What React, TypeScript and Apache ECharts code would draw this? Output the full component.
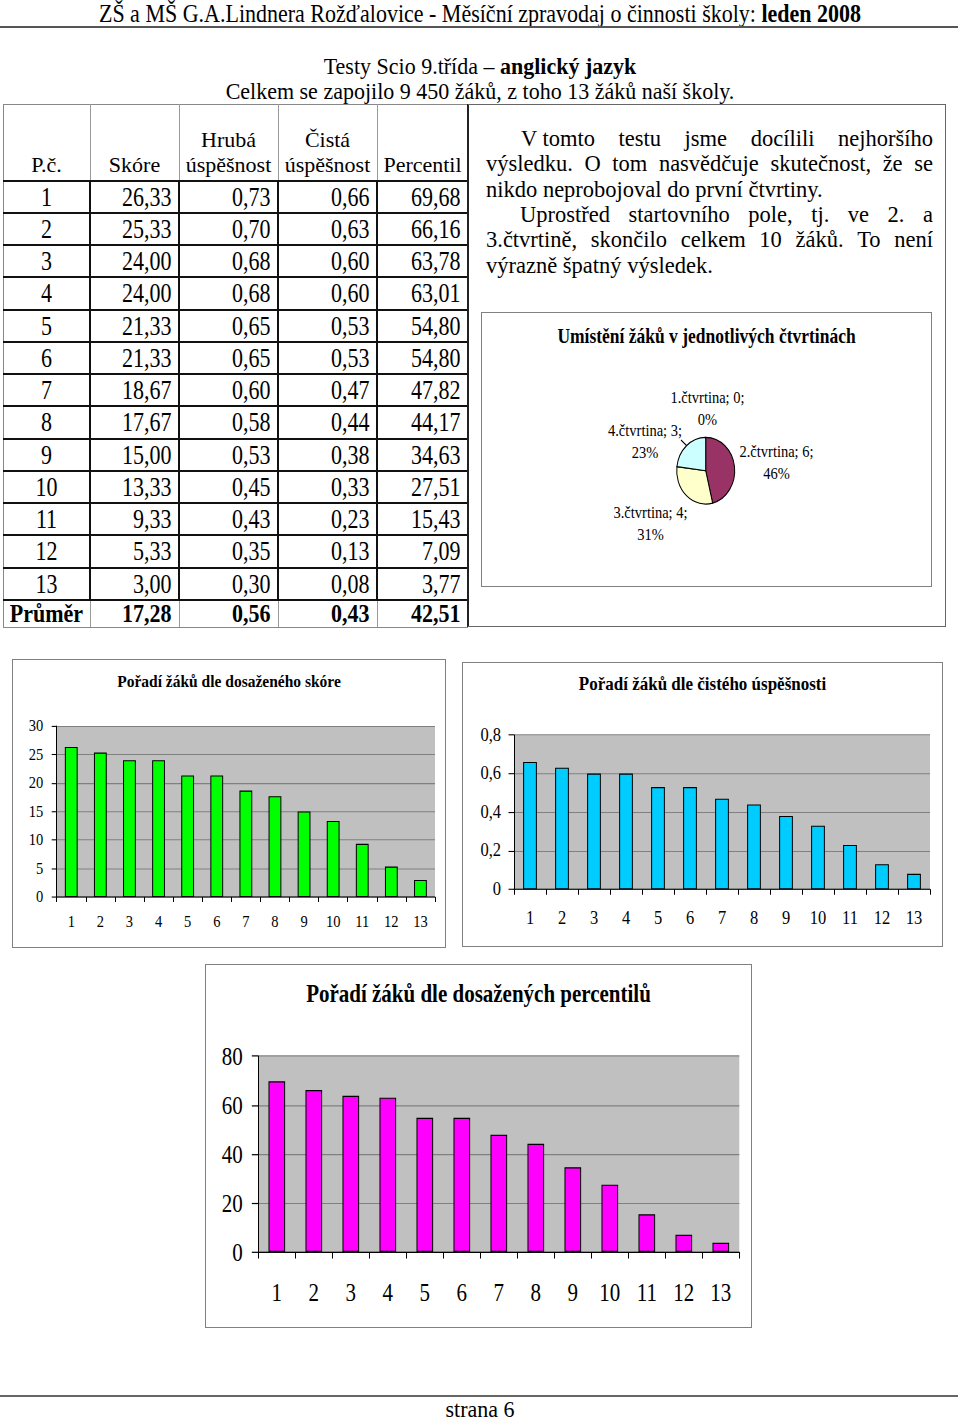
import React, { useEffect, useRef } from 'react';
import * as echarts from 'echarts';

// ---------- data ----------
const students = ['1', '2', '3', '4', '5', '6', '7', '8', '9', '10', '11', '12', '13'];
const scores = [26.33, 25.33, 24.0, 24.0, 21.33, 21.33, 18.67, 17.67, 15.0, 13.33, 9.33, 5.33, 3.0];
const grossSuccess = [0.73, 0.7, 0.68, 0.68, 0.65, 0.65, 0.6, 0.58, 0.53, 0.45, 0.43, 0.35, 0.3];
const netSuccess = [0.66, 0.63, 0.6, 0.6, 0.53, 0.53, 0.47, 0.44, 0.38, 0.33, 0.23, 0.13, 0.08];
const percentiles = [69.68, 66.16, 63.78, 63.01, 54.8, 54.8, 47.82, 44.17, 34.63, 27.51, 15.43, 7.09, 3.77];
const averageRow = [17.28, 0.56, 0.43, 42.51];
const quartileNames = ['1.čtvrtina', '2.čtvrtina', '3.čtvrtina', '4.čtvrtina'];
const quartileCounts = [0, 6, 4, 3];
const tableHeaders = [['P.č.'], ['Skóre'], ['Hrubá', 'úspěšnost'], ['Čistá', 'úspěšnost'], ['Percentil']];

// ---------- styling ----------
const SERIF = "'Liberation Serif', 'Times New Roman', Times, serif";
const fmt = (v: number) => v.toFixed(2).replace('.', ',');
const pieColors = ['#FFFFFF', '#993366', '#FFFFCC', '#CCFFFF'];

type TP = { x: number; y: number; size?: number; k?: number; align?: 'center' | 'left' | 'right'; bold?: boolean; w?: number; children?: any };
function T({ x, y, size = 22, k = 1.22, align = 'center', bold = false, w = 900, children }: TP) {
  const top = y - k * 0.8375 * size;
  let left = x;
  if (align === 'center') left = x - w / 2;
  else if (align === 'right') left = x - w;
  return (
    <div
      style={{
        position: 'absolute', left, top, width: w, fontFamily: SERIF, fontSize: size,
        lineHeight: size + 'px', fontWeight: bold ? 'bold' : 'normal', textAlign: align,
        whiteSpace: 'nowrap', transform: `scaleY(${k})`, transformOrigin: '0 0', color: '#000',
      }}
    >
      {children}
    </div>
  );
}

function JLine({ x1, x2, y, words, size = 22.5, k = 1.0, justify = true }: any) {
  const top = y - k * 0.8375 * size;
  return (
    <div
      style={{
        position: 'absolute', left: x1, top, width: x2 - x1, display: 'flex',
        justifyContent: justify ? 'space-between' : 'flex-start',
        fontFamily: SERIF, fontSize: size, lineHeight: size + 'px', whiteSpace: 'pre',
        transform: `scaleY(${k})`, transformOrigin: '0 0', color: '#000',
      }}
    >
      {words.map((w: string, i: number) => <span key={i}>{w}</span>)}
    </div>
  );
}

const HL = ({ x1, x2, y, t = 1, c = '#000' }: any) => (
  <div style={{ position: 'absolute', left: x1, top: y - t / 2, width: x2 - x1, height: t, background: c }} />
);
const VL = ({ x, y1, y2, t = 1, c = '#000' }: any) => (
  <div style={{ position: 'absolute', left: x - t / 2, top: y1, width: t, height: y2 - y1, background: c }} />
);

function ChartBox({ box, k, option }: any) {
  const ref = useRef<HTMLDivElement>(null);
  useEffect(() => {
    const chart = echarts.init(ref.current as HTMLDivElement, undefined, { renderer: 'svg' });
    chart.setOption(option);
    return () => chart.dispose();
  }, []);
  const width = box.r - box.l;
  const height = box.b - box.t;
  return (
    <div style={{ position: 'absolute', left: box.l, top: box.t, width, height, border: '1px solid #808080', boxSizing: 'border-box', background: '#fff' }}>
      <div ref={ref} style={{ position: 'absolute', left: 0, top: 0, width: width - 2, height: (height - 2) / k, transform: `scaleY(${k})`, transformOrigin: '0 0' }} />
    </div>
  );
}

function barOption(spec: any, data: number[], color: string, yMax: number, yInterval: number, yFmt: (v: number) => string) {
  const { box, plot, k, axisFont, title, titleSize, titleCy, xLabelCy, yLabelRight, tickLen, barWidth } = spec;
  const iL = box.l + 1, iT = box.t + 1, iR = box.r - 1, iB = box.b - 1;
  return {
    animation: false,
    textStyle: { fontFamily: SERIF },
    title: {
      text: title, left: 'center', top: (titleCy - iT) / k - titleSize / 2, padding: 0,
      textStyle: { fontFamily: SERIF, fontSize: titleSize, fontWeight: 'bold', color: '#000' },
    },
    grid: {
      left: plot.l - iL, right: iR - plot.r, top: (plot.t - iT) / k, bottom: (iB - plot.b) / k,
      show: true, backgroundColor: '#C0C0C0', borderWidth: 0,
    },
    xAxis: {
      type: 'category', data: students, boundaryGap: true,
      axisLine: { lineStyle: { color: '#000', width: 1 } },
      axisTick: { show: true, interval: 0, length: tickLen / k, lineStyle: { color: '#000' } },
      axisLabel: { interval: 0, margin: (xLabelCy - plot.b) / k - axisFont / 2, fontSize: axisFont, color: '#000', fontFamily: SERIF },
      splitLine: { show: false },
    },
    yAxis: {
      type: 'value', min: 0, max: yMax, interval: yInterval,
      axisLine: { show: true, lineStyle: { color: '#000', width: 1 } },
      axisTick: { show: true, length: tickLen, lineStyle: { color: '#000' } },
      axisLabel: { margin: plot.l - yLabelRight, fontSize: axisFont, color: '#000', fontFamily: SERIF, formatter: yFmt },
      splitLine: { show: true, lineStyle: { color: '#808080', width: 1 } },
    },
    series: [{ type: 'bar', data, barWidth, itemStyle: { color, borderColor: '#000', borderWidth: 1 }, emphasis: { disabled: true } }],
  };
}

const chart1Spec = {
  box: { l: 12, t: 659, r: 446, b: 948 }, plot: { l: 56.7, t: 726, r: 435, b: 896.7 }, k: 1.08,
  axisFont: 14.5, title: 'Pořadí žáků dle dosaženého skóre', titleSize: 15.5, titleCy: 681,
  xLabelCy: 921, yLabelRight: 43.3, tickLen: 5, barWidth: '44%',
};
const chart2Spec = {
  box: { l: 462, t: 662, r: 943, b: 947 }, plot: { l: 514, t: 735, r: 930, b: 889.3 }, k: 1.08,
  axisFont: 16.5, title: 'Pořadí žáků dle čistého úspěšnosti', titleSize: 17, titleCy: 684,
  xLabelCy: 918, yLabelRight: 501, tickLen: 5.5, barWidth: '43%',
};
const chart3Spec = {
  box: { l: 205, t: 964, r: 752, b: 1328 }, plot: { l: 258.3, t: 1056, r: 739.3, b: 1251.7 }, k: 1.22,
  axisFont: 21, title: 'Pořadí žáků dle dosažených percentilů', titleSize: 21, titleCy: 993,
  xLabelCy: 1291.5, yLabelRight: 242.7, tickLen: 6.5, barWidth: '45%',
};

const pieBox = { l: 481, t: 312, r: 932, b: 587 };
const pieK = 1.15;
const toPieLocal = (x: number, y: number) => [x - pieBox.l - 1, (y - pieBox.t - 1) / pieK];
const pieCenterPage = [705.7, 470.7];
const pieLabelPage = [[707.5, 408], [776.5, 462], [650.5, 523], [645, 441]];
const pieGuidePage = [[681, 440], [686.5, 445.5]];

function pieOption() {
  const c = toPieLocal(pieCenterPage[0], pieCenterPage[1]);
  return {
    animation: false,
    textStyle: { fontFamily: SERIF },
    title: {
      text: 'Umístění žáků v jednotlivých čtvrtinách', left: 'center', top: (336 - pieBox.t - 1) / pieK - 17.5 / 2, padding: 0,
      textStyle: { fontFamily: SERIF, fontSize: 17.5, fontWeight: 'bold', color: '#000' },
    },
    series: [{
      type: 'pie', center: c, radius: 29, startAngle: 90, clockwise: true, percentPrecision: 0,
      avoidLabelOverlap: false, emphasis: { disabled: true },
      itemStyle: { borderColor: '#000', borderWidth: 1 },
      data: quartileNames.map((name, i) => ({
        name, value: quartileCounts[i], itemStyle: { color: pieColors[i] },
        labelLine: { show: i === 3 },
      })),
      label: {
        show: true, position: 'outside', formatter: '{b}; {c};\n{d}%', fontFamily: SERIF,
        fontSize: 14.5, lineHeight: 22 / pieK, color: '#000', align: 'center',
      },
      labelLine: { show: false, length: 4, length2: 4, lineStyle: { color: '#000', width: 1 } },
      labelLayout: (p: any) => {
        const [x, y] = toPieLocal(pieLabelPage[p.dataIndex][0], pieLabelPage[p.dataIndex][1]);
        const res: any = { x, y, align: 'center', verticalAlign: 'middle' };
        if (p.dataIndex === 3) res.labelLinePoints = pieGuidePage.map((pt) => toPieLocal(pt[0], pt[1]));
        return res;
      },
    }],
  };
}

const colX = [3, 90, 179, 278, 377, 468];
const rowTop0 = 180.5;
const rowH = 32.25;

export default function App() {
  useEffect(() => {
    document.body.style.margin = '0';
  }, []);
  const dataCols = [scores, grossSuccess, netSuccess, percentiles];
  const rowLines = Array.from({ length: 14 }, (_, i) => rowTop0 + rowH * i);
  return (
    <div style={{ position: 'absolute', left: 0, top: 0, width: 960, height: 1421, overflow: 'hidden', background: '#fff' }}>
      {/* header */}
      <T x={480} y={22} size={22} k={1.1}>ZŠ a MŠ G.A.Lindnera Rožďalovice - Měsíční zpravodaj o činnosti školy: <b>leden 2008</b></T>
      <HL x1={0} x2={958} y={27} t={2} c="#555" />
      <T x={480} y={75} size={22} k={1.02}>Testy Scio 9.třída – <b>anglický jazyk</b></T>
      <T x={480} y={100} size={22} k={1.02}>Celkem se zapojilo 9 450 žáků, z toho 13 žáků naší školy.</T>

      {/* table */}
      <HL x1={3} x2={468} y={104.5} t={1} c="#888" />
      <VL x={3.5} y1={104} y2={627} t={1} c="#888" />
      <HL x1={3} x2={468} y={627} t={1} c="#888" />
      {colX.slice(1, 5).map((x) => <VL key={'hv' + x} x={x} y1={104} y2={rowTop0} t={1} c="#999" />)}
      {colX.slice(1, 5).map((x) => <VL key={'dv' + x} x={x} y1={rowTop0} y2={rowLines[13]} t={2} c="#111" />)}
      {colX.slice(1, 5).map((x) => <VL key={'pv' + x} x={x} y1={rowLines[13]} y2={627} t={1} c="#999" />)}
      {rowLines.map((y, i) => <HL key={'rl' + i} x1={3} x2={469} y={y} t={2} c="#111" />)}
      <VL x={468} y1={104} y2={627} t={2} c="#222" />
      {tableHeaders.map((h, j) => {
        const cx = (colX[j] + colX[j + 1]) / 2;
        return h.length === 1 ? (
          <T key={'h' + j} x={cx} y={172.5} w={120} k={1.0}>{h[0]}</T>
        ) : (
          <React.Fragment key={'h' + j}>
            <T x={cx} y={147.5} w={120} k={1.0}>{h[0]}</T>
            <T x={cx} y={172.5} w={120} k={1.0}>{h[1]}</T>
          </React.Fragment>
        );
      })}
      {students.map((s, i) => {
        const by = 206 + rowH * i;
        return (
          <React.Fragment key={'r' + i}>
            <T x={(colX[0] + colX[1]) / 2} y={by} w={80}>{s}</T>
            {dataCols.map((col, j) => (
              <T key={j} x={colX[j + 2] - 7.5} y={by} w={90} align="right">{fmt(col[i])}</T>
            ))}
          </React.Fragment>
        );
      })}
      <T x={(colX[0] + colX[1]) / 2} y={622.5} w={90} bold k={1.12}>Průměr</T>
      {averageRow.map((v, j) => (
        <T key={'a' + j} x={colX[j + 2] - 7.5} y={622.5} w={90} align="right" bold k={1.12}>{fmt(v)}</T>
      ))}

      {/* text box */}
      <div style={{ position: 'absolute', left: 468, top: 104, width: 478, height: 523, borderTop: '1.5px solid #666', borderRight: '1.5px solid #666', borderBottom: '1.5px solid #666', boxSizing: 'border-box' }} />
      <JLine x1={521} x2={933} y={147} words={['V tomto', 'testu', 'jsme', 'docílili', 'nejhoršího']} />
      <JLine x1={486} x2={933} y={172.3} words={['výsledku.', 'O', 'tom', 'nasvědčuje', 'skutečnost,', 'že', 'se']} />
      <JLine x1={486} x2={933} y={197.6} justify={false} words={['nikdo neprobojoval do první čtvrtiny.']} />
      <JLine x1={520} x2={933} y={222.9} words={['Uprostřed', 'startovního', 'pole,', 'tj.', 've', '2.', 'a']} />
      <JLine x1={486} x2={933} y={248.2} words={['3.čtvrtině,', 'skončilo', 'celkem', '10', 'žáků.', 'To', 'není']} />
      <JLine x1={486} x2={933} y={273.5} justify={false} words={['výrazně špatný výsledek.']} />

      {/* charts */}
      <ChartBox box={pieBox} k={pieK} option={pieOption()} />
      <ChartBox box={chart1Spec.box} k={chart1Spec.k} option={barOption(chart1Spec, scores, '#00FF00', 30, 5, (v: number) => String(v))} />
      <ChartBox box={chart2Spec.box} k={chart2Spec.k} option={barOption(chart2Spec, netSuccess, '#00CCFF', 0.8, 0.2, (v: number) => String(+v.toFixed(1)).replace('.', ','))} />
      <ChartBox box={chart3Spec.box} k={chart3Spec.k} option={barOption(chart3Spec, percentiles, '#FF00FF', 80, 20, (v: number) => String(v))} />

      {/* footer */}
      <HL x1={0} x2={958} y={1396} t={2} c="#666" />
      <T x={480} y={1417} size={22} k={1.05}>strana 6</T>
    </div>
  );
}
